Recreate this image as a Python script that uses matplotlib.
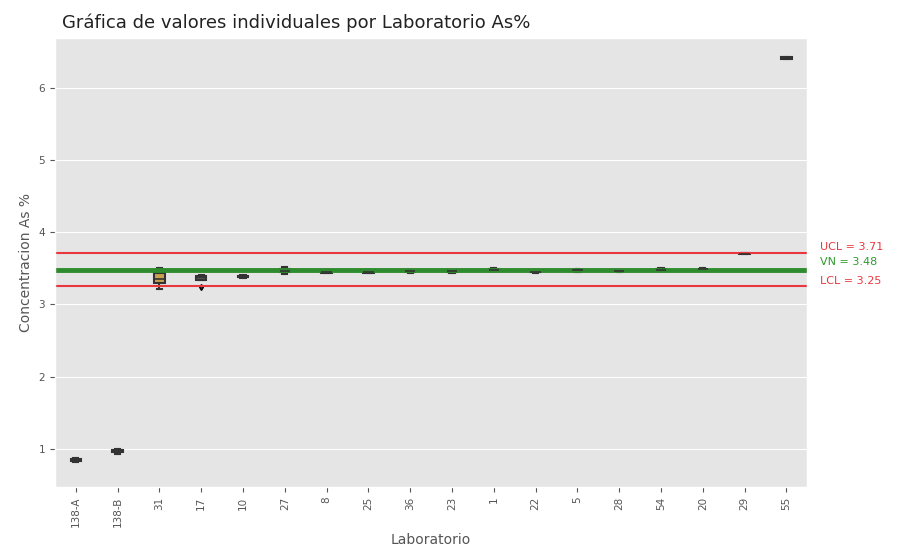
import matplotlib
matplotlib.use("Agg")
import matplotlib.pyplot as plt
import numpy as np

plt.style.use('ggplot')

labs = ['138-A', '138-B', '31', '17', '10', '27', '8', '25', '36', '23',
        '1', '22', '5', '28', '54', '20', '29', '55']
values = [
    [0.82, 0.85, 0.87],
    [0.93, 0.97, 1.00],
    [3.21, 3.30, 3.35, 3.43, 3.50],
    [3.24, 3.37, 3.39, 3.40],
    [3.37, 3.39, 3.40],
    [3.42, 3.45, 3.47, 3.52],
    [3.43, 3.45, 3.47],
    [3.43, 3.45, 3.47],
    [3.44, 3.46, 3.48],
    [3.44, 3.46, 3.48],
    [3.46, 3.48, 3.50],
    [3.44, 3.45, 3.46],
    [3.45, 3.47, 3.49],
    [3.45, 3.46, 3.48],
    [3.47, 3.48, 3.50],
    [3.48, 3.49, 3.50],
    [3.69, 3.70, 3.71],
    [6.39, 6.41, 6.43],
]
ucl = 3.71
vn = 3.48
lcl = 3.25

box_colors = ['#b45a78', '#555555', '#c8a050', '#555555', '#555555', '#5a8a5a',
              '#555555', '#555555', '#555555', '#555555', '#555555', '#555555',
              '#555555', '#555555', '#555555', '#555555', '#555555', '#555555']

fig = plt.figure(figsize=(8.99, 5.56), dpi=100)
ax = fig.add_axes([0.061, 0.124, 0.837, 0.808])

pos = np.arange(len(labs))
bp = ax.boxplot(values, positions=pos, widths=0.25, patch_artist=True,
                medianprops=dict(color='#333333', linewidth=1.2),
                whiskerprops=dict(color='#333333', linewidth=1.5),
                capprops=dict(color='#333333', linewidth=1.5),
                boxprops=dict(edgecolor='#333333', linewidth=1.5),
                flierprops=dict(marker='d', markersize=3, markerfacecolor='#333333'))
for patch, c in zip(bp['boxes'], box_colors):
    patch.set_facecolor(c)

ax.axhline(ucl, color='#e8383d', linewidth=1.5)
ax.axhline(vn, color='#2e8b2e', linewidth=3.5)
ax.axhline(lcl, color='#e8383d', linewidth=1.5)

tr = ax.get_yaxis_transform()
ax.text(1.017, ucl + 0.08, 'UCL = %.2f' % ucl, transform=tr,
        color='#e8383d', fontsize=8, va='center')
ax.text(1.017, vn + 0.11, 'VN = %.2f' % vn, transform=tr,
        color='#2e9a2e', fontsize=8, va='center')
ax.text(1.017, lcl + 0.07, 'LCL = %.2f' % lcl, transform=tr,
        color='#e8383d', fontsize=8, va='center')

ax.set_xlim(-0.5, len(labs) - 0.5)
ax.set_ylim(0.47, 6.69)
ax.set_xticks(pos)
ax.set_xticklabels(labs, rotation=90, fontsize=7.5)
ax.set_yticks([1, 2, 3, 4, 5, 6])
ax.tick_params(axis='y', labelsize=7.5)
ax.grid(axis='x', visible=False)

ax.set_xlabel('Laboratorio', fontsize=10, color='#555555')
ax.set_ylabel('Concentracion As %', fontsize=10, color='#555555')
fig.text(0.069, 0.95, 'Gráfica de valores individuales por Laboratorio As%',
         fontsize=13, color='#222222')

fig.savefig('out.png', dpi=100)
